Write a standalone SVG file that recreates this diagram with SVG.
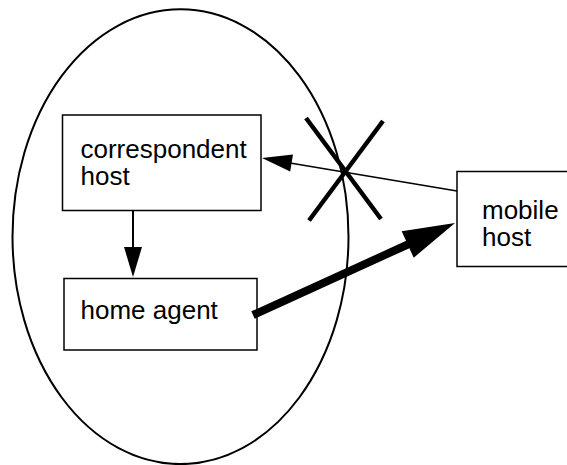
<svg xmlns="http://www.w3.org/2000/svg" width="567" height="465" viewBox="0 0 567 465">
<style>
.box{fill:#fff;stroke:#000;stroke-width:1.5}
.lbl{font-family:"Liberation Sans",Arial,sans-serif;font-size:26px;fill:#000}
.ln{stroke:#000;fill:none}
</style>
<rect width="567" height="465" fill="#fff"/>
<g id="home-network">
<ellipse cx="180.5" cy="236.7" rx="168" ry="227.4" fill="none" stroke="#000" stroke-width="2"/>
</g>
<g id="correspondent-host">
<rect class="box" x="62.5" y="115" width="198.5" height="95.5"/>
<text class="lbl" x="80.5" y="158">correspondent</text>
<text class="lbl" x="80.5" y="185">host</text>
</g>
<g id="home-agent">
<rect class="box" x="64" y="278.5" width="193" height="71.5"/>
<text class="lbl" x="80.5" y="318.5">home agent</text>
</g>
<g id="mobile-host">
<rect class="box" x="457" y="171.5" width="115" height="95"/>
<text class="lbl" x="482" y="219">mobile</text>
<text class="lbl" x="482" y="246">host</text>
</g>
<g id="connectors">
<line class="ln" x1="133" y1="210.5" x2="133" y2="248" stroke-width="2"/>
<polygon points="133,277 124,247 142,247" fill="#000"/>
<line class="ln" x1="457" y1="191" x2="290" y2="163" stroke-width="1.5"/>
<polygon points="262,158 293,154.6 290.2,171.4" fill="#000"/>
<line class="ln" x1="253" y1="315" x2="410" y2="243.5" stroke-width="8"/>
<polygon points="455,223 401.7,231.3 413.7,257.7" fill="#000"/>
<line class="ln" x1="306" y1="118" x2="381" y2="219" stroke-width="4.5"/>
<line class="ln" x1="383" y1="121" x2="309" y2="220.5" stroke-width="4.5"/>
</g>
</svg>
